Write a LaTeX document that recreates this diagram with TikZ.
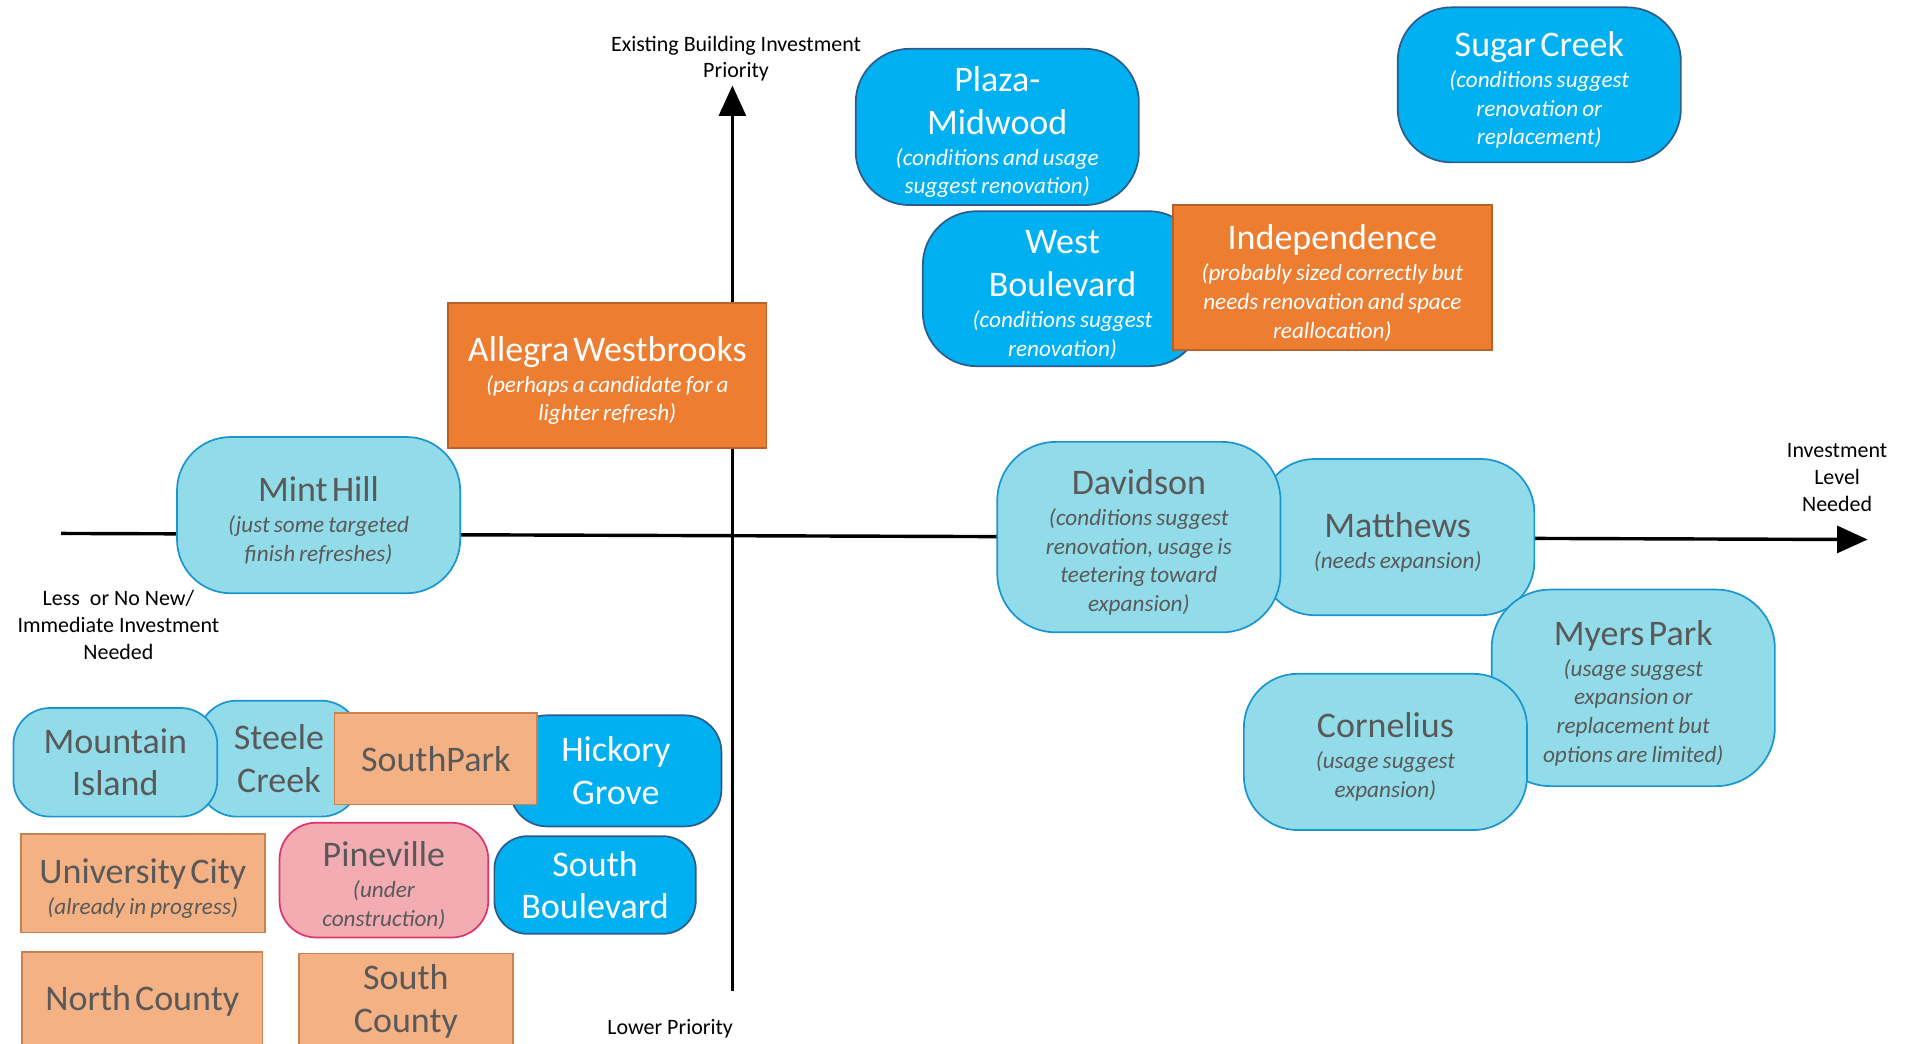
\documentclass[tikz,border=0pt]{standalone}
\usepackage{fontspec}
\setmainfont{Carlito}
\usetikzlibrary{arrows.meta}

\definecolor{bblue}{HTML}{00B0F0}
\definecolor{bblueline}{HTML}{2C5C8C}
\definecolor{lblue}{HTML}{92DCEA}
\definecolor{lblueline}{HTML}{1B95CF}
\definecolor{orng}{HTML}{ED7D31}
\definecolor{orngline}{HTML}{B8622A}
\definecolor{lorng}{HTML}{F4B183}
\definecolor{lorngline}{HTML}{C8814F}
\definecolor{pnk}{HTML}{F4ACB3}
\definecolor{pnkline}{HTML}{E0336A}
\definecolor{darktext}{HTML}{595959}

% title and subtitle text inside the boxes; \fin closes the last line
\newcommand\ttl{\fontsize{29.5}{35}\selectfont\upshape}
\newcommand\ttlt{\vskip-6pt\ttl}
\newcommand\sbt{\par\vskip2pt\fontsize{19}{23.5}\selectfont\itshape}
\newcommand\fin{\par}

\tikzset{
  box/.style={inner sep=0pt, align=center, line width=1.4pt},
  bb/.style={box, fill=bblue, draw=bblueline, text=white},
  lb/.style={box, fill=lblue, draw=lblueline, text=darktext},
  ob/.style={box, fill=orng, draw=orngline, text=white},
  lob/.style={box, fill=lorng, draw=lorngline, text=darktext},
  pb/.style={box, fill=pnk, draw=pnkline, text=darktext},
  axis/.style={line width=2.8pt, -{Triangle[length=25pt,width=22pt]}},
  axlbl/.style={align=center, inner sep=0pt, font=\fontsize{18}{22}\selectfont}
}

\begin{document}
\begin{tikzpicture}[x=1pt, y=-1pt]
\useasboundingbox (0,0) rectangle (1568,855);

% axes
\coordinate (xl) at (50,437);
\coordinate (xr) at (1530,442);
\coordinate (yb) at (600,812);
\coordinate (yt) at (600,70);
\draw[axis] (xl) -- (xr);
\draw[axis] (yb) -- (yt);

\node[axlbl] (ylab) at (603,48) {Existing Building Investment\\Priority};
\node[axlbl] (xlab) at (1505,391) {Investment\\Level\\Needed};
\node[axlbl] (llab) at (97,512) {Less\ \ or No New/\\Immediate Investment\\Needed};
\node[axlbl] (lowp) at (549,843) {Lower Priority};

% upper right quadrant
\node[bb, rounded corners=44pt, text width=232pt, minimum height=128pt] (plaza) at (817,104)
  {\ttlt Plaza-\\Midwood\sbt (conditions and usage\\suggest renovation)\fin};
\node[bb, rounded corners=44pt, text width=232pt, minimum height=127pt] (sugar) at (1261,69.5)
  {\ttlt Sugar Creek\sbt (conditions suggest\\renovation or\\replacement)\fin};
\node[bb, rounded corners=44pt, text width=229pt, minimum height=127pt] (westb) at (870.5,236.5)
  {\ttlt West\\Boulevard\sbt (conditions suggest\\renovation)\fin};
\node[ob, text width=261pt, minimum height=119pt] (indep) at (1091.5,227.5)
  {\ttlt Independence\sbt (probably sized correctly but\\needs renovation and space\\reallocation)\fin};
\node[ob, text width=261pt, minimum height=119pt] (allegra) at (497.5,307.5)
  {\ttlt Allegra Westbrooks\sbt (perhaps a candidate for a\\lighter refresh)\fin};

% along the horizontal axis
\node[lb, rounded corners=44pt, text width=232pt, minimum height=128pt] (minthill) at (261,422)
  {\ttlt Mint Hill\sbt (just some targeted\\finish refreshes)\fin};
\node[lb, rounded corners=44pt, text width=224pt, minimum height=128pt] (matthews) at (1145,440)
  {\ttlt Matthews\sbt (needs expansion)\fin};
\node[lb, rounded corners=48pt, text width=232pt, minimum height=156pt] (davidson) at (933,440)
  {\ttlt Davidson\sbt (conditions suggest\\renovation, usage is\\teetering toward\\expansion)\fin};

% lower right quadrant
\node[lb, rounded corners=48pt, text width=232pt, minimum height=161pt] (myers) at (1338,563.5)
  {\ttlt Myers Park\sbt (usage suggest\\expansion or\\replacement but\\options are limited)\fin};
\node[lb, rounded corners=44pt, text width=232pt, minimum height=128pt] (cornelius) at (1135,616)
  {\ttlt Cornelius\sbt (usage suggest\\expansion)\fin};

% lower left quadrant
\node[lb, rounded corners=32pt, text width=133pt, minimum height=95pt] (steele) at (228.5,621.5)
  {\ttl Steele\\Creek\fin};
\node[lb, rounded corners=30pt, text width=167pt, minimum height=89pt] (mountain) at (94.5,624.5)
  {\ttl Mountain\\Island\fin};
\node[bb, rounded corners=30pt, text width=173pt, minimum height=91pt] (hickory) at (504.5,631.5)
  {\ttl Hickory\\Grove\fin};
\node[lob, text width=166pt, minimum height=75pt] (southpark) at (357,621.5)
  {\ttl SouthPark\fin};
\node[lob, text width=200pt, minimum height=81pt] (univ) at (117,723.5)
  {\ttlt University City\sbt (already in progress)\fin};
\node[pb, rounded corners=30pt, text width=171pt, minimum height=94pt] (pineville) at (314.5,721)
  {\ttlt Pineville\sbt (under\\construction)\fin};
\node[bb, rounded corners=27pt, text width=165pt, minimum height=80pt] (southblvd) at (487.5,725)
  {\ttl South\\Boulevard\fin};
\node[lob, text width=197pt, minimum height=80pt] (northc) at (116.5,820)
  {\ttl North County\fin};
\node[lob, text width=175pt, minimum height=79pt] (southc) at (332.5,820.5)
  {\ttl South\\County\fin};
\end{tikzpicture}
\end{document}
